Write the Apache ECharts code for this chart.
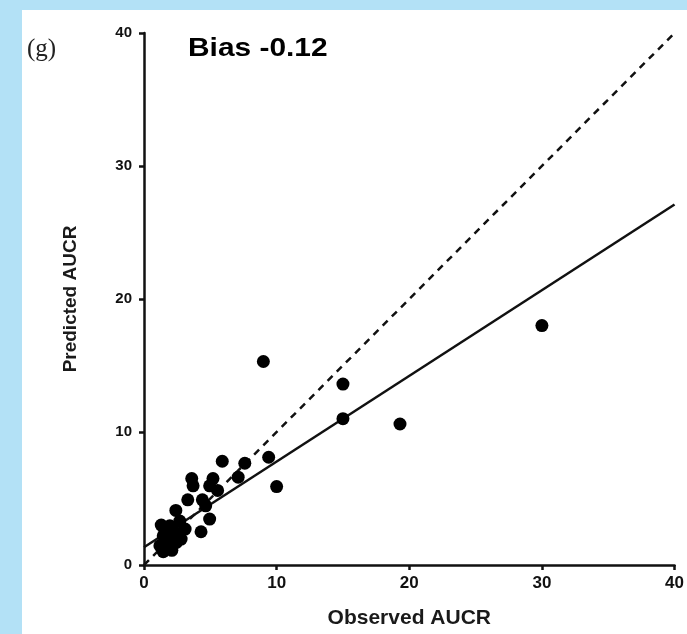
<!DOCTYPE html>
<html>
<head>
<meta charset="utf-8">
<script src="https://cdn.jsdelivr.net/npm/echarts@6/dist/echarts.min.js"></script>
<style>
html,body{margin:0;padding:0;background:#b3e1f6;}
#chart{width:687px;height:634px;}
</style>
</head>
<body>
<div id="chart"></div>
<script>
// Observed vs predicted AUCR
const observedAUCR = [30.0, 19.3, 15.0, 15.0, 9.0, 9.4, 10.0, 5.9, 7.6, 7.1, 3.6, 3.7, 5.2, 4.95, 5.55, 3.3, 4.4, 4.65, 2.4, 4.95, 4.3,
  1.3, 1.95, 2.7, 3.1, 1.45, 2.2, 2.8, 1.2, 1.95, 1.45, 2.1, 2.45, 1.6, 2.3, 1.8];
const predictedAUCR = [18.0, 10.6, 13.6, 11.0, 15.3, 8.1, 5.9, 7.8, 7.65, 6.6, 6.5, 5.95, 6.5, 5.95, 5.6, 4.9, 4.9, 4.45, 4.1, 3.45, 2.5,
  3.0, 2.95, 3.3, 2.7, 2.2, 2.2, 1.95, 1.45, 1.45, 1.0, 1.1, 1.7, 2.6, 2.5, 1.9];
const fitX = [0, 40];
const fitY = [1.33, 27.1];
const identityX = [0, 40];
const identityY = [0, 40];
const axisTicks = [0, 10, 20, 30, 40];
const biasLabel = 'Bias -0.12';
const panelLabel = '(g)';

const chart = echarts.init(document.getElementById('chart'));
const pts = observedAUCR.map((x, i) => [x, predictedAUCR[i]]);
const fitPts = fitX.map((x, i) => [x, fitY[i]]);
const idPts = identityX.map((x, i) => [x, identityY[i]]);
const axisCommon = {
  min: axisTicks[0], max: axisTicks[axisTicks.length - 1], interval: 10,
  splitLine: {show: false},
  axisLine: {show: true, onZero: false, lineStyle: {color: '#111', width: 2.5}},
  axisTick: {show: true, length: 5, inside: false, lineStyle: {color: '#111', width: 2.5}},
  nameLocation: 'middle'
};
const lbl = {color: '#111', fontFamily: 'Liberation Sans, Arial', fontWeight: 'bold'};
const nm = {color: '#1a1a1a', fontFamily: 'Liberation Sans, Arial', fontWeight: 'bold'};
chart.setOption({
  animation: false,
  backgroundColor: '#b3e1f6',
  graphic: [
    {type: 'rect', z: -10, shape: {x: 22, y: 10, width: 700, height: 700}, style: {fill: '#ffffff'}},
    {type: 'text', left: 27, top: 37, style: {text: panelLabel, font: '25px "Liberation Serif", "DejaVu Serif", serif', fill: '#222'}},
    {type: 'text', left: 188, top: 36, scaleX: 1.15, style: {text: biasLabel, font: 'bold 26px "Liberation Sans", Arial, sans-serif', fill: '#000'}}
  ],
  grid: {left: 144, right: 10, top: 33, bottom: 68, containLabel: false},
  xAxis: Object.assign({}, axisCommon, {type: 'value', name: 'Observed AUCR', nameGap: 43,
    nameTextStyle: Object.assign({fontSize: 21}, nm),
    axisLabel: Object.assign({fontSize: 17, margin: 10}, lbl)}),
  yAxis: Object.assign({}, axisCommon, {type: 'value', name: 'Predicted AUCR', nameGap: 64,
    nameTextStyle: Object.assign({fontSize: 19}, nm),
    axisLabel: Object.assign({fontSize: 15, margin: 12}, lbl)}),
  series: [
    {type: 'line', data: idPts, symbol: 'none', lineStyle: {color: '#111', width: 2.5, type: [7, 6]}, z: 2},
    {type: 'line', data: fitPts, symbol: 'none', lineStyle: {color: '#111', width: 2.5}, z: 3},
    {type: 'scatter', data: pts, symbol: 'circle', symbolSize: 13, itemStyle: {color: '#000', opacity: 1}, z: 4}
  ]
});
</script>
</body>
</html>
